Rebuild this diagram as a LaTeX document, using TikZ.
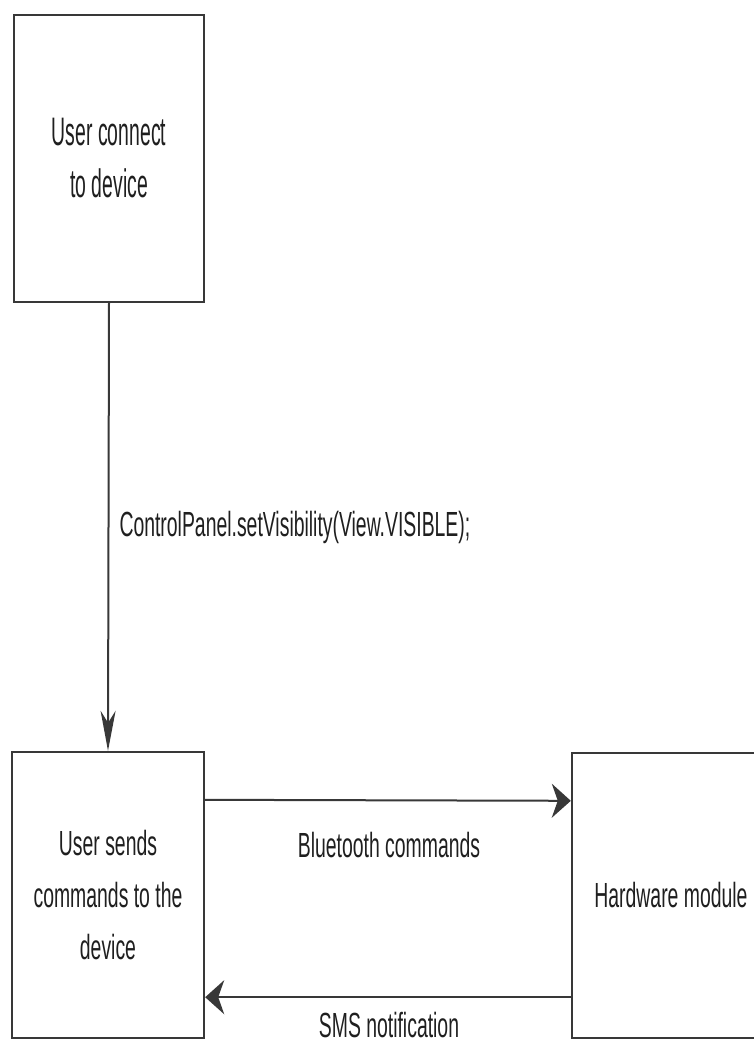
\documentclass[tikz,border=0pt]{standalone}
\usepackage{fontspec}
\setmainfont{Liberation Sans}
\usetikzlibrary{arrows.meta,calc}
\newcommand{\sty}[1]{\scalebox{1}[1.8]{#1}}
\newcommand{\stt}[1]{\scalebox{1}[2.05]{#1}}
\begin{document}
\begin{tikzpicture}[x=1pt,y=1pt,
  box/.style={draw=black!78,line width=2.4pt,rectangle,inner sep=0pt,
    text=black!88,align=center,font=\fontsize{19.4}{52}\selectfont},
  conn/.style={draw=black!78,line width=2pt},
  lbl/.style={text=black!88,font=\fontsize{19.4}{52}\selectfont,inner sep=0pt},
  downtip/.style={-{Stealth[length=40pt,width=15pt,inset=12pt]}},
  sidetip/.style={-{Stealth[length=19pt,width=34pt,inset=6pt]}}
]
\useasboundingbox (0,0) rectangle (754,-1045);
\clip (0,0) rectangle (754,-1045);
\fill[white] (0,0) rectangle (754,-1045);

\node[box,minimum width=190pt,minimum height=287pt] (top) at (109,-158.5)
  {\stt{User connect}\\\stt{to device}};
\node[box,minimum width=192pt,minimum height=286pt] (bl) at (108,-895)
  {\sty{User sends}\\\sty{commands to the}\\\sty{device}};
\node[box,minimum width=198pt,minimum height=285pt] (hw) at (671,-895.5)
  {\sty{Hardware module}};

\draw[conn,downtip] (top.south) -- (bl.north)
  node[lbl,pos=0.5,anchor=west,xshift=10pt] (l1) {\sty{ControlPanel.setVisibility(View.VISIBLE);}};

\draw[conn,sidetip] ([yshift=-49pt]bl.north east) -- ([yshift=-49pt]hw.north west);
\node[lbl] (l2) at (389,-845) {\sty{Bluetooth commands}};

\draw[conn,sidetip] ([yshift=42pt]hw.south west) -- ([yshift=42pt]bl.south east);
\node[lbl] (l3) at (389,-1025) {\sty{SMS notification}};
\end{tikzpicture}
\end{document}
